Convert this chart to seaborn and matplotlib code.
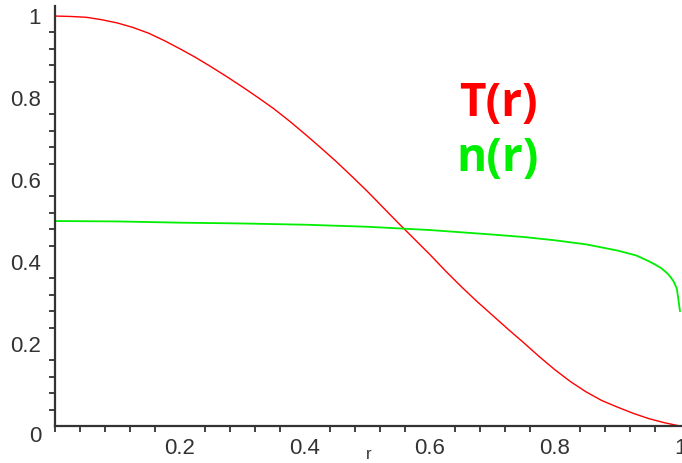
import numpy as np
import pandas as pd
import matplotlib
matplotlib.use("Agg")
import matplotlib.pyplot as plt
from matplotlib.ticker import MultipleLocator
import seaborn as sns

# Temperature profile T(r)
r_T = [0.0, 0.025, 0.05, 0.075, 0.1, 0.125, 0.15, 0.175, 0.2, 0.225, 0.25,
       0.275, 0.3, 0.325, 0.35, 0.375, 0.4, 0.425, 0.45, 0.475, 0.5,
       0.525, 0.55, 0.575, 0.6, 0.625, 0.65, 0.675, 0.7, 0.725, 0.75,
       0.775, 0.8, 0.825, 0.85, 0.875, 0.9, 0.925, 0.95, 0.975, 1.0]
T_vals = [1.0, 0.999, 0.997, 0.991, 0.983, 0.972, 0.958, 0.940, 0.920, 0.899, 0.876,
          0.852, 0.827, 0.801, 0.774, 0.744, 0.712, 0.679, 0.645, 0.609, 0.572,
          0.533, 0.494, 0.456, 0.418, 0.378, 0.340, 0.304, 0.270, 0.236, 0.203,
          0.169, 0.137, 0.108, 0.083, 0.062, 0.046, 0.031, 0.018, 0.008, 0.0]

# Density profile n(r)
r_n = [0.0, 0.1, 0.2, 0.3, 0.4, 0.5, 0.6, 0.7, 0.75, 0.8, 0.85, 0.9,
       0.93, 0.95, 0.96, 0.97, 0.98, 0.985, 0.99, 0.995, 1.0]
n_vals = [0.5, 0.499, 0.496, 0.494, 0.491, 0.486, 0.478, 0.467, 0.461, 0.453, 0.443, 0.428,
          0.416, 0.402, 0.394, 0.385, 0.372, 0.363, 0.352, 0.335, 0.28]

x_ticks = [0.2, 0.4, 0.6, 0.8, 1.0]
x_tick_labels = ["0.2", "0.4", "0.6", "0.8", "1"]
y_ticks = [0.0, 0.2, 0.4, 0.6, 0.8, 1.0]
y_tick_labels = ["0", "0.2", "0.4", "0.6", "0.8", "1"]

df_T = pd.DataFrame({"r": r_T, "value": T_vals})
df_n = pd.DataFrame({"r": r_n, "value": n_vals})

sns.set_style("white")
plt.rcParams["font.family"] = ["Liberation Sans", "DejaVu Sans"]

fig = plt.figure(figsize=(6.82, 4.63), dpi=100)
ax = fig.add_axes([55 / 682, 1 - 426 / 463, 627 / 682, 420 / 463])

sns.lineplot(data=df_T, x="r", y="value", ax=ax, color="#ff0000", linewidth=1.0)
sns.lineplot(data=df_n, x="r", y="value", ax=ax, color="#00ee00", linewidth=1.3)

ax.set_xlim(0, 1.0032)
ax.set_ylim(0, 1.0245)

for side in ("top", "right"):
    ax.spines[side].set_visible(False)
for side in ("left", "bottom"):
    ax.spines[side].set_color("#333333")
    ax.spines[side].set_linewidth(1.6)

ax.set_xticks(x_ticks)
ax.set_xticklabels(x_tick_labels)
ax.set_yticks(y_ticks)
ax.set_yticklabels(y_tick_labels)
ax.xaxis.set_minor_locator(MultipleLocator(0.04))
ax.yaxis.set_minor_locator(MultipleLocator(0.04))

ax.tick_params(axis="both", which="major", direction="out", length=7, width=1.3,
               color="#333333", labelsize=16, labelcolor="#333333")
ax.tick_params(axis="both", which="minor", direction="out", length=4, width=1.3,
               color="#333333")
ax.tick_params(axis="x", which="major", length=6, pad=3)
ax.tick_params(axis="y", which="major", pad=3)
ax.tick_params(axis="x", which="minor", bottom=True)
ax.tick_params(axis="y", which="minor", left=True)

# origin label sits just below the corner
ax.get_yticklabels()[0].set_verticalalignment("top")

ax.set_xlabel("r", fontsize=12, color="#333333", labelpad=-9)
ax.set_ylabel("")

ax.text((498 - 55) / 625, (426 - 103) / 410, "T(r)", color="#ff0000", fontsize=33,
        fontweight="bold", family="Open Sans", ha="center", va="center",
        transform=ax.transData)
ax.text((498 - 55) / 625, (426 - 158) / 410, "n(r)", color="#00ee00", fontsize=33,
        fontweight="bold", family="Open Sans", ha="center", va="center",
        transform=ax.transData)

fig.savefig("out.png", dpi=100)
